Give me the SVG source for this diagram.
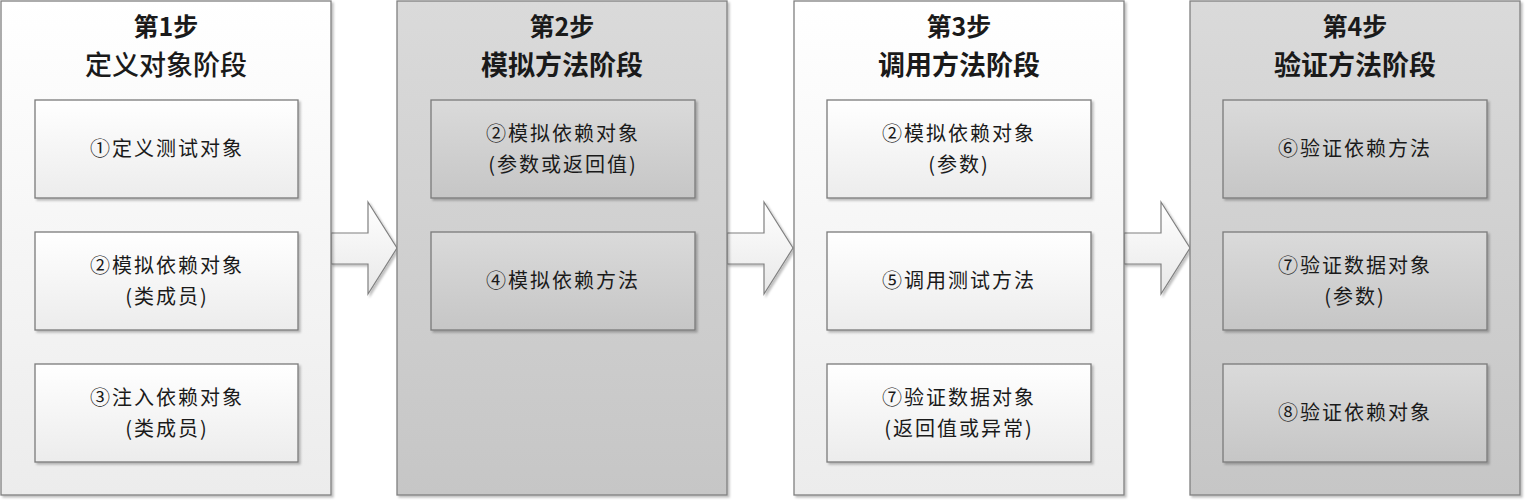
<svg xmlns="http://www.w3.org/2000/svg" width="1525" height="500" viewBox="0 0 1525 500">
<defs>
<linearGradient id="gl" x1="0" y1="0" x2="0" y2="1"><stop offset="0" stop-color="#ffffff"/><stop offset="1" stop-color="#ececec"/></linearGradient>
<linearGradient id="gd" x1="0" y1="0" x2="0" y2="1"><stop offset="0" stop-color="#dadada"/><stop offset="1" stop-color="#c6c6c6"/></linearGradient>
<linearGradient id="ga" x1="0" y1="0" x2="0" y2="1"><stop offset="0" stop-color="#ffffff"/><stop offset="1" stop-color="#e8e8e8"/></linearGradient>
<filter id="sh" x="-5%" y="-5%" width="110%" height="110%"><feDropShadow dx="2" dy="2" stdDeviation="1.2" flood-color="#000" flood-opacity="0.25"/></filter>
</defs>
<style>
.col{stroke:#808080;stroke-width:1.3;filter:url(#sh)}
.lt{fill:url(#gl)}
.dk{fill:url(#gd)}
.box{stroke:#7a7a7a;stroke-width:1.3;filter:url(#sh)}
.arr{fill:url(#ga);stroke:#808080;stroke-width:1.2;filter:url(#sh)}
text{font-family:"Noto Sans CJK SC","Liberation Sans",sans-serif;text-anchor:middle;fill:#1a1a1a}
.t{font-size:25px;font-weight:bold}
.b{font-size:20px;letter-spacing:2px}
</style>
<g id="connectors">
<path class="arr" d="M331,233 H368 V202 L397,248 L368,294 V264 H331 Z"/>
<path class="arr" d="M727,233 H764 V202 L793,248 L764,294 V264 H727 Z"/>
<path class="arr" d="M1124,233 H1161 V202 L1190,248 L1161,294 V264 H1124 Z"/>
</g>
<g id="step1">
<rect class="col lt" x="1" y="1" width="330" height="494"/>
<text class="t" x="166" y="36">第1步</text>
<text class="t" x="166" y="75" style="font-weight:500;font-size:27px">定义对象阶段</text>
</g>
<g id="s1b1"><rect class="box lt" x="35" y="100" width="263" height="98"/><text class="b" x="167" y="156">①定义测试对象</text></g>
<g id="s1b2"><rect class="box lt" x="35" y="232" width="263" height="98"/><text class="b" x="167" y="273">②模拟依赖对象</text><text class="b" x="167" y="304">(类成员)</text></g>
<g id="s1b3"><rect class="box lt" x="35" y="364" width="263" height="98"/><text class="b" x="167" y="405">③注入依赖对象</text><text class="b" x="167" y="436">(类成员)</text></g>
<g id="step2">
<rect class="col dk" x="397" y="1" width="330" height="494"/>
<text class="t" x="562" y="36">第2步</text>
<text class="t" x="562" y="75" style="font-size:27px">模拟方法阶段</text>
</g>
<g id="s2b1"><rect class="box dk" x="431" y="100" width="264" height="98"/><text class="b" x="563" y="141">②模拟依赖对象</text><text class="b" x="563" y="172">(参数或返回值)</text></g>
<g id="s2b2"><rect class="box dk" x="431" y="232" width="264" height="98"/><text class="b" x="563" y="288">④模拟依赖方法</text></g>
<g id="step3">
<rect class="col lt" x="794" y="1" width="330" height="494"/>
<text class="t" x="959" y="36">第3步</text>
<text class="t" x="959" y="75" style="font-size:27px">调用方法阶段</text>
</g>
<g id="s3b1"><rect class="box lt" x="827" y="100" width="264" height="98"/><text class="b" x="959" y="141">②模拟依赖对象</text><text class="b" x="959" y="172">(参数)</text></g>
<g id="s3b2"><rect class="box lt" x="827" y="232" width="264" height="98"/><text class="b" x="959" y="288">⑤调用测试方法</text></g>
<g id="s3b3"><rect class="box lt" x="827" y="364" width="264" height="98"/><text class="b" x="959" y="405">⑦验证数据对象</text><text class="b" x="959" y="436">(返回值或异常)</text></g>
<g id="step4">
<rect class="col dk" x="1190" y="1" width="330" height="494"/>
<text class="t" x="1355" y="36">第4步</text>
<text class="t" x="1355" y="75" style="font-size:27px">验证方法阶段</text>
</g>
<g id="s4b1"><rect class="box dk" x="1223" y="100" width="264" height="98"/><text class="b" x="1355" y="156">⑥验证依赖方法</text></g>
<g id="s4b2"><rect class="box dk" x="1223" y="232" width="264" height="98"/><text class="b" x="1355" y="273">⑦验证数据对象</text><text class="b" x="1355" y="304">(参数)</text></g>
<g id="s4b3"><rect class="box dk" x="1223" y="364" width="264" height="98"/><text class="b" x="1355" y="420">⑧验证依赖对象</text></g>
</svg>
